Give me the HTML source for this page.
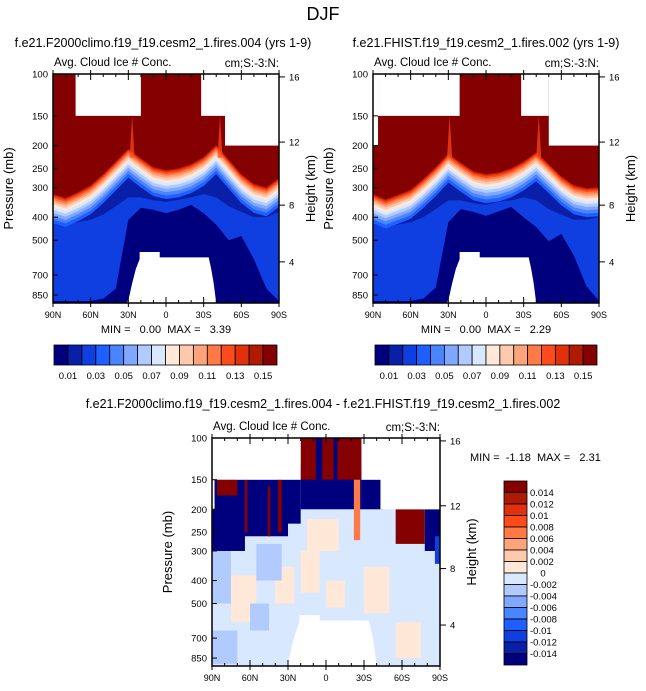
<!DOCTYPE html>
<html><head><meta charset="utf-8">
<style>
html,body{margin:0;padding:0;background:#fff;}
svg{display:block;font-family:"Liberation Sans",sans-serif;}
text{white-space:pre;}
</style></head>
<body>
<svg id="root" width="646" height="691" viewBox="0 0 646 691"></svg>
<script>
// ---------- data ----------
const lats = [90,80,70,60,50,40,30,20,10,0,-10,-20,-30,-40,-50,-60,-70,-80,-90];
const iceBaseL = [318,330,312,292,262,232,205,225,245,252,248,238,222,198,228,262,288,298,272];
const deepL    = [900,900,900,900,880,800,410,365,372,385,372,355,385,430,500,480,600,800,900];
const midL     = [420,430,420,410,390,360,330,330,340,345,338,330,320,330,360,380,400,400,380];
const iceBaseR = [318,335,320,305,275,245,215,235,255,262,258,248,232,212,238,268,292,300,298];
const deepR    = [900,900,900,900,880,790,420,370,380,395,378,362,400,440,505,470,580,780,900];
const midR     = [420,440,430,420,400,370,340,340,350,355,345,340,330,340,370,390,410,410,400];
const spikeLatL = [27,-43];
const spikeLatR = [29,-42];
const topMaskLat1L = [72,-28,-47];
const topMaskLat2L = [20,-47,-90];
const topMaskPL    = [150,150,200];
const topMaskLat1R = [90,86,-28,-50];
const topMaskLat2R = [86,21,-50,-90];
const topMaskPR    = [200,150,150,200];
const botMaskLat = [31,29,27,24,21,21,5,5,-34,-36,-38,-40];
const botMaskP   = [950,850,760,660,600,560,560,590,590,660,760,950];
const levelsTop = [0.01,0.02,0.03,0.04,0.05,0.06,0.07,0.08,0.09,0.10,0.11,0.12,0.13,0.14,0.15];
const topTickLabels = ["0.01","0.03","0.05","0.07","0.09","0.11","0.13","0.15"];
const diffLevels = [-0.014,-0.012,-0.01,-0.008,-0.006,-0.004,-0.002,0,0.002,0.004,0.006,0.008,0.01,0.012,0.014];
const diffTickLabels = ["0.014","0.012","0.01","0.008","0.006","0.004","0.002","0","-0.002","-0.004","-0.006","-0.008","-0.01","-0.012","-0.014"];
// difference field regions
const regLat1 = [75,40,20,0,-30,-55,15,90,90,55,60,90,64,30,86,64,46,38,20,20,8,-6,-22,-28,-55,-78,-86];
const regLat2 = [55,25,5,-15,-50,-75,-10,75,70,35,45,64,30,20,70,62,44,35,-28,-28,3,-9,-27,-45,-78,-90,-90];
const regPTop = [380,350,300,400,350,600,220,300,650,280,500,150,150,150,150,150,160,150,130,100,100,100,150,150,200,200,260];
const regPBot = [600,500,450,520,550,850,300,500,900,400,650,300,260,230,175,250,260,250,200,150,150,150,270,200,280,300,340];
const regVal  = [0.001,0.001,0.001,0.001,0.001,0.001,0.001,-0.003,-0.003,-0.003,-0.003,-0.02,-0.02,-0.02,0.02,0.02,0.02,0.02,-0.02,0.02,-0.02,-0.02,0.007,-0.02,0.02,-0.02,-0.011];
const diffTopMaskLat1 = [90,90,-28,-43];
const diffTopMaskLat2 = [20,88,-90,-90];
const diffTopMaskP    = [150,200,150,200];
const pTicks = [100,150,200,250,300,400,500,700,850];
const hTicks = [16,12,8,4];
const latTicks = [90,60,30,0,-30,-60,-90];
const latTickLabels = ["90N","60N","30N","0","30S","60S","90S"];

const colors = ["#00007f","#0a1fa8","#0f3fe0","#1f5fff","#4a84ff","#80a8ff","#b2cbff","#d8e8ff","#ffe8d8","#ffc9ae","#ffa47a","#ff7a46","#ff4a1c","#e0300c","#b01a00","#850000"];

// ---------- helpers ----------
const NS="http://www.w3.org/2000/svg";
const root=document.getElementById('root');
function mk(tag,attrs,parent){const e=document.createElementNS(NS,tag);for(const k in attrs)e.setAttribute(k,attrs[k]);(parent||root).appendChild(e);return e;}
function txt(s,x,y,size,anchor,parent,rot){const t=mk('text',{x:x,y:y,'font-size':size,'text-anchor':anchor||'middle',fill:'#000'},parent);if(rot)t.setAttribute('transform',`rotate(${rot} ${x} ${y})`);t.textContent=s;return t;}
function binColor(v,levels){let i=0;while(i<levels.length&&v>=levels[i])i++;return colors[i];}
function stdP(zkm){const z=zkm*1000;if(z<=11000)return 1013.25*Math.pow(1-2.2558e-5*z,5.2559);return 226.32*Math.exp(-(z-11000)/6341.6);}

function makeAxes(x0,y0,w,h){
  const pTop=100,pBot=918;
  const sx=lat=>x0+(90-lat)/180*w;
  const sy=p=>y0+Math.log(Math.max(pTop,Math.min(p,pBot))/pTop)/Math.log(pBot/pTop)*h;
  return {sx,sy,x0,y0,w,h};
}

function frame(ax,g,name){
  const {sx,sy,x0,y0,w,h}=ax;
  mk('rect',{x:x0,y:y0,width:w,height:h,fill:'none',stroke:'#000','stroke-width':1.5},g);
  pTicks.forEach(p=>{mk('line',{x1:x0,x2:x0+5,y1:sy(p),y2:sy(p),stroke:'#000','stroke-width':1},g);
    const t=txt(String(p),x0-5,sy(p)+3.5,9.5,'end',g);});
  hTicks.forEach(z=>{const y=sy(stdP(z));mk('line',{x1:x0+w,x2:x0+w+6,y1:y,y2:y,stroke:'#000','stroke-width':1},g);
    const t=txt(String(z),x0+w+10,y+3.5,9.5,'start',g);});
  for(let lat=90;lat>=-90;lat-=10){const major=lat%30===0;const l=major?6:3;
    mk('line',{x1:sx(lat),x2:sx(lat),y1:y0,y2:y0+l,stroke:'#000'},g);
    mk('line',{x1:sx(lat),x2:sx(lat),y1:y0+h,y2:y0+h-l,stroke:'#000'},g);
    if(major){mk('line',{x1:sx(lat),x2:sx(lat),y1:y0,y2:y0-4,stroke:'#000'},g);mk('line',{x1:sx(lat),x2:sx(lat),y1:y0+h,y2:y0+h+4,stroke:'#000'},g);}}
  latTicks.forEach((lat,i)=>{const t=txt(latTickLabels[i],sx(lat),y0+h+15,9,'middle',g);});
  const a=txt('Pressure (mb)',x0-40,y0+h/2,13,'middle',g,-90);
  const b=txt('Height (km)',x0+w+36,y0+h/2,13,'middle',g,-90);
  const c=txt('Avg. Cloud Ice # Conc.',x0+1,y0-8,11.5,'start',g);
  const d=txt('cm;S:-3:N:',x0+w,y0-7,11.5,'end',g);
}

function curvePath(ax,latArr,pArr){
  const {sx,sy}=ax;
  let d=`M${sx(latArr[0])},${sy(100)}`;
  latArr.forEach((l,i)=>{d+=` L${sx(l)},${sy(pArr[i])}`;});
  d+=` L${sx(latArr[latArr.length-1])},${sy(100)} Z`;
  return d;
}

function topPanel(x0,iceBase,mid,deep,spikes,m1,m2,mp,name){
  const g=mk('g',{},root);
  const ax=makeAxes(x0,74,226,229);const {sx,sy}=ax;
  const clipId=name+'-clip';
  const cp=mk('clipPath',{id:clipId},g);mk('rect',{x:x0,y:74,width:226,height:229},cp);
  const f=mk('g',{'clip-path':`url(#${clipId})`},g);
  mk('rect',{x:x0,y:74,width:226,height:229,fill:colors[0]},f);
  const dp=mk('path',{d:curvePath(ax,lats,deep),fill:colors[2]},f);
  
  const mp2=mk('path',{d:curvePath(ax,lats,mid),fill:colors[1]},f);
  
  for(let k=1;k<levelsTop.length-1;k++){
    const frac=1-(k+1)/levelsTop.length;
    const pk=iceBase.map(p=>p*Math.exp(0.36*Math.pow(frac,1.6)));
    const path=mk('path',{d:curvePath(ax,lats,pk),fill:colors[k+2]},f);
    
  }
  const top=mk('path',{d:curvePath(ax,lats,iceBase),fill:colors[15]},f);
  
  spikes.forEach(lat=>{
    const s=mk('path',{d:`M${sx(lat+2)},${sy(225)} L${sx(lat)},${sy(150)} L${sx(lat-2)},${sy(225)} Z`,fill:colors[12],opacity:0.7},f);
    
  });
  m1.forEach((l,i)=>{const r=mk('rect',{x:sx(l),y:sy(100),width:sx(m2[i])-sx(l),height:sy(mp[i])-sy(100),fill:'#fff'},f);
    });
  let d='';botMaskLat.forEach((l,i)=>{d+=(i?' L':'M')+sx(l)+','+sy(botMaskP[i]);});d+=' Z';
  const bm=mk('path',{d:d,fill:'#fff'},f);
  frame(ax,g,name);
  return g;
}

function hLabelbar(x0,y0,w,h,name){
  const g=mk('g',{},root);
  const bw=w/16;
  colors.forEach((c,i)=>{const r=mk('rect',{x:x0+i*bw,y:y0,width:bw,height:h,fill:c,stroke:'#000','stroke-width':0.8},g);
    });
  topTickLabels.forEach((s,i)=>{const t=txt(s,x0+(2*i+1)*bw,y0+h+14,9.5,'middle',g);});
}

// ---------- titles ----------
let t=txt('DJF',323,20,18,'middle');
t=txt('f.e21.F2000climo.f19_f19.cesm2_1.fires.004 (yrs 1-9)',163,47,12.5,'middle');
t=txt('f.e21.FHIST.f19_f19.cesm2_1.fires.002 (yrs 1-9)',486,47,12.5,'middle');
t=txt('f.e21.F2000climo.f19_f19.cesm2_1.fires.004 - f.e21.FHIST.f19_f19.cesm2_1.fires.002',323,408,12.5,'middle');

topPanel(53,iceBaseL,midL,deepL,spikeLatL,topMaskLat1L,topMaskLat2L,topMaskPL,'left-panel');
topPanel(373,iceBaseR,midR,deepR,spikeLatR,topMaskLat1R,topMaskLat2R,topMaskPR,'right-panel');
t=txt('MIN =   0.00  MAX =   3.39',166,333,11,'middle');
t=txt('MIN =   0.00  MAX =   2.29',486,333,11,'middle');
hLabelbar(54,345,223,20,'left-labelbar');
hLabelbar(375,345,222,20,'right-labelbar');

// ---------- difference panel ----------
(function(){
  const g=mk('g',{},root);
  const ax=makeAxes(212,438,228,228);const {sx,sy}=ax;
  const cp=mk('clipPath',{id:'diff-clip'},g);mk('rect',{x:212,y:438,width:228,height:228},cp);
  const f=mk('g',{'clip-path':'url(#diff-clip)'},g);
  mk('rect',{x:212,y:438,width:228,height:228,fill:binColor(-0.001,diffLevels)},f);
  regLat1.forEach((l,i)=>{
    const r=mk('rect',{x:sx(l),y:sy(regPTop[i]),width:sx(regLat2[i])-sx(l),height:sy(regPBot[i])-sy(regPTop[i]),fill:binColor(regVal[i],diffLevels)},f);
    
  });
  diffTopMaskLat1.forEach((l,i)=>{const r=mk('rect',{x:sx(l),y:sy(100),width:sx(diffTopMaskLat2[i])-sx(l),height:sy(diffTopMaskP[i])-sy(100),fill:'#fff'},f);
    });
  let d='';botMaskLat.forEach((l,i)=>{d+=(i?' L':'M')+sx(l)+','+sy(botMaskP[i]);});d+=' Z';
  const bm=mk('path',{d:d,fill:'#fff'},f);
  frame(ax,g,'difference-panel');
  let tt=txt('MIN =  -1.18  MAX =   2.31',470,461,11,'start');
  const lb=mk('g',{},root);
  const bh=184/16;
  for(let i=0;i<16;i++){const r=mk('rect',{x:504,y:481+i*bh,width:23,height:bh,fill:colors[15-i],stroke:'#000','stroke-width':0.8},lb);
    }
  diffTickLabels.forEach((s,i)=>{
    const tl=txt(s,s==='0'?543:530,481+(i+1)*bh+3.5,9.5,s==='0'?'middle':'start',lb);});
})();
</script>
</body></html>
